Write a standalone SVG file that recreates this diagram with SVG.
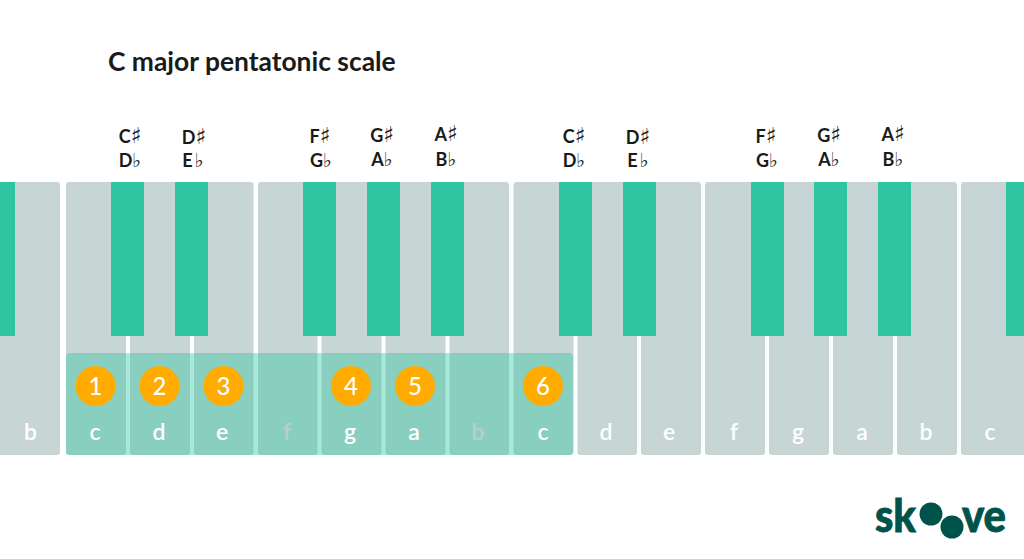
<svg xmlns="http://www.w3.org/2000/svg" width="1024" height="559" viewBox="0 0 1024 559">
<style>
text{font-family:Lato,"Noto Sans","Liberation Sans",sans-serif}
.w{fill:#c7d6d5}
.k{fill:#2ec5a0}
.n{font-size:23px;font-weight:600;fill:#fff;text-anchor:middle}
.f{fill:#b9cfca}
.b{font-size:18px;font-weight:700;fill:#1a1a1a;text-anchor:middle}
.s{font-family:"DejaVu Sans",sans-serif;font-weight:400;font-size:22px}
.t{font-family:"DejaVu Sans",sans-serif;font-weight:400;font-size:19px}
.o{fill:#ffab00}
.d{font-size:24px;font-weight:500;fill:#fff;text-anchor:middle}
.l{font-size:45px;font-weight:900;fill:#00534b;stroke:#00534b;stroke-width:.8px}
</style>
<rect width="1024" height="559" fill="#fff"/>
<text x="108" y="71" fill="#1a1a1a" style="font-size:26.4px;font-weight:700">C major pentatonic scale</text>
<g id="white-keys">
<rect class="w" x="-6" y="182" width="66" height="273" rx="3"/>
<rect class="w" x="66" y="182" width="60" height="273" rx="3"/>
<rect class="w" x="130" y="182" width="60" height="273" rx="3"/>
<rect class="w" x="194" y="182" width="59.500" height="273" rx="3"/>
<rect class="w" x="258" y="182" width="59.500" height="273" rx="3"/>
<rect class="w" x="321.500" y="182" width="60" height="273" rx="3"/>
<rect class="w" x="385.500" y="182" width="60" height="273" rx="3"/>
<rect class="w" x="449.500" y="182" width="59.500" height="273" rx="3"/>
<rect class="w" x="513.500" y="182" width="60" height="273" rx="3"/>
<rect class="w" x="577.500" y="182" width="59.500" height="273" rx="3"/>
<rect class="w" x="641" y="182" width="60" height="273" rx="3"/>
<rect class="w" x="705" y="182" width="60" height="273" rx="3"/>
<rect class="w" x="769" y="182" width="60" height="273" rx="3"/>
<rect class="w" x="833" y="182" width="60" height="273" rx="3"/>
<rect class="w" x="897" y="182" width="60" height="273" rx="3"/>
<rect class="w" x="961" y="182" width="69" height="273" rx="3"/>
</g>
<g id="black-keys">
<rect class="k" x="-10" y="182" width="25" height="154"/>
<rect class="k" x="111" y="182" width="33" height="154"/>
<rect class="k" x="175" y="182" width="33" height="154"/>
<rect class="k" x="303" y="182" width="33" height="154"/>
<rect class="k" x="367" y="182" width="33" height="154"/>
<rect class="k" x="431" y="182" width="33" height="154"/>
<rect class="k" x="559" y="182" width="33" height="154"/>
<rect class="k" x="623" y="182" width="33" height="154"/>
<rect class="k" x="751" y="182" width="33" height="154"/>
<rect class="k" x="814" y="182" width="33" height="154"/>
<rect class="k" x="878" y="182" width="33" height="154"/>
<rect class="k" x="1006" y="182" width="25" height="154"/>
</g>
<g id="highlight">
<rect x="66" y="353" width="507" height="102" rx="4" fill="#2ec5a0" fill-opacity=".4"/>
</g>
<g id="note-names">
<text class="n" x="30.500" y="440">b</text>
<text class="n" x="95" y="440">c</text>
<text class="n" x="159" y="440">d</text>
<text class="n" x="222" y="440">e</text>
<text class="n f" x="287" y="440">f</text>
<text class="n" x="350" y="440">g</text>
<text class="n" x="414" y="440">a</text>
<text class="n f" x="478" y="440">b</text>
<text class="n" x="543" y="440">c</text>
<text class="n" x="606" y="440">d</text>
<text class="n" x="669" y="440">e</text>
<text class="n" x="734" y="440">f</text>
<text class="n" x="798" y="440">g</text>
<text class="n" x="862" y="440">a</text>
<text class="n" x="926" y="440">b</text>
<text class="n" x="990" y="440">c</text>
</g>
<g id="degree-1"><circle class="o" cx="95.500" cy="386" r="20"/><text class="d" x="95.500" y="394.500">1</text></g>
<g id="degree-2"><circle class="o" cx="159.500" cy="386" r="20"/><text class="d" x="159.500" y="394.500">2</text></g>
<g id="degree-3"><circle class="o" cx="223.500" cy="386" r="20"/><text class="d" x="223.500" y="394.500">3</text></g>
<g id="degree-4"><circle class="o" cx="351" cy="386" r="20"/><text class="d" x="351" y="394.500">4</text></g>
<g id="degree-5"><circle class="o" cx="415" cy="386" r="20"/><text class="d" x="415" y="394.500">5</text></g>
<g id="degree-6"><circle class="o" cx="543" cy="386" r="20"/><text class="d" x="543" y="394.500">6</text></g>
<g id="accidentals">
<text class="b" x="130" y="143">C<tspan class="s">♯</tspan></text><text class="b" x="130" y="167">D<tspan class="t">♭</tspan></text>
<text class="b" x="194" y="144">D<tspan class="s">♯</tspan></text><text class="b" x="193" y="167">E<tspan class="t" dx="2">♭</tspan></text>
<text class="b" x="320" y="143">F<tspan class="s">♯</tspan></text><text class="b" x="321" y="167">G<tspan class="t">♭</tspan></text>
<text class="b" x="382" y="142">G<tspan class="s">♯</tspan></text><text class="b" x="382" y="166">A<tspan class="t">♭</tspan></text>
<text class="b" x="446" y="141">A<tspan class="s">♯</tspan></text><text class="b" x="446" y="166">B<tspan class="t">♭</tspan></text>
<text class="b" x="574" y="143">C<tspan class="s">♯</tspan></text><text class="b" x="574" y="167">D<tspan class="t">♭</tspan></text>
<text class="b" x="638" y="144">D<tspan class="s">♯</tspan></text><text class="b" x="638" y="167">E<tspan class="t" dx="2">♭</tspan></text>
<text class="b" x="766" y="143">F<tspan class="s">♯</tspan></text><text class="b" x="767" y="167">G<tspan class="t">♭</tspan></text>
<text class="b" x="829" y="142">G<tspan class="s">♯</tspan></text><text class="b" x="829" y="166">A<tspan class="t">♭</tspan></text>
<text class="b" x="893" y="141">A<tspan class="s">♯</tspan></text><text class="b" x="893" y="166">B<tspan class="t">♭</tspan></text>
</g>
<g id="logo">
<text class="l" x="875" y="532" textLength="41" lengthAdjust="spacingAndGlyphs">sk</text>
<circle cx="931" cy="514" r="11.500" fill="#00534b"/>
<circle cx="952" cy="527" r="11.500" fill="#00534b"/>
<text class="l" x="962" y="532" textLength="44" lengthAdjust="spacingAndGlyphs">ve</text>
</g>
</svg>
